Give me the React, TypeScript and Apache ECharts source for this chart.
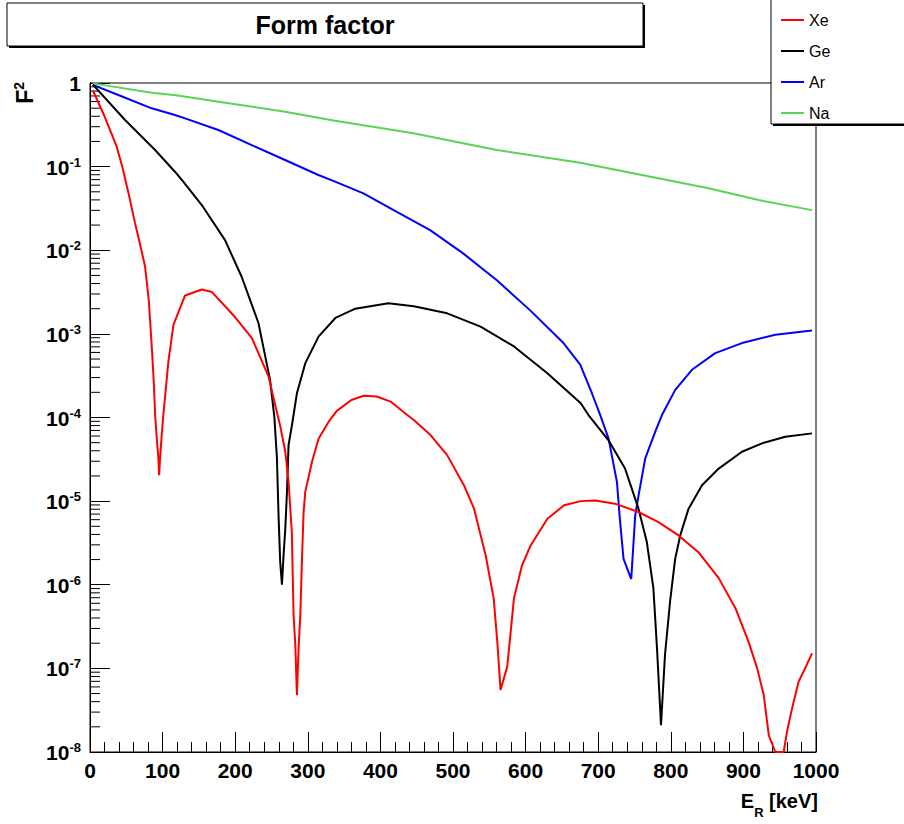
import React, { useEffect, useRef } from "react";
import * as echarts from "echarts";

// ---- Data (recoil energy in keV, squared form factor) ----
const xeEnergy = [4, 20, 36.8, 45, 54, 62, 69, 75.9, 81, 85.1, 88, 89.7, 92, 94.2, 95.2, 96.5, 98.8, 101, 108, 115, 131, 154, 168, 200, 223, 246, 255, 262, 269, 273.5, 278, 280.4, 282.8, 285, 287.3, 289.7, 292, 294.2, 296.5, 305.8, 315, 328.7, 340, 360, 377, 395, 414, 437, 446, 469, 492, 515, 529, 545, 556, 561, 565.5, 574.7, 584, 595, 607, 630, 653, 676, 696, 723, 755.5, 783, 810.7, 838, 866, 889, 907, 919, 928, 935, 944, 955.5, 960, 967, 976, 985, 994.5];
const xeF2 = [0.813, 0.4, 0.173, 0.0955, 0.0442, 0.0211, 0.0117, 0.00635, 0.0025, 7.01e-4, 2.5e-4, 1.07e-4, 5.62e-5, 3.24e-5, 2.04e-5, 3.24e-5, 6.17e-5, 1.07e-4, 4.68e-4, 1.29e-3, 2.88e-3, 3.39e-3, 3.16e-3, 1.58e-3, 8.91e-4, 3.09e-4, 1.41e-4, 7.94e-5, 3.89e-5, 1.7e-5, 4.27e-6, 4.37e-7, 1.91e-7, 4.79e-8, 1.74e-7, 4.37e-7, 2.04e-6, 7.41e-6, 1.29e-5, 2.95e-5, 5.62e-5, 8.91e-5, 1.2e-4, 1.62e-4, 1.82e-4, 1.78e-4, 1.55e-4, 1.07e-4, 9.33e-5, 6.17e-5, 3.55e-5, 1.55e-5, 8.13e-6, 2.24e-6, 6.92e-7, 2.09e-7, 5.5e-8, 1.05e-7, 6.92e-7, 1.7e-6, 2.95e-6, 6.17e-6, 8.91e-6, 1.0e-5, 1.02e-5, 9.33e-6, 7.41e-6, 5.62e-6, 3.89e-6, 2.45e-6, 1.2e-6, 5.25e-7, 2.09e-7, 1.0e-7, 4.79e-8, 1.58e-8, 1.0e-8, 1.0e-8, 1.74e-8, 3.31e-8, 6.92e-8, 1.0e-7, 1.51e-7];

const geEnergy = [4, 48.3, 89.7, 118.5, 126.5, 154, 186, 209, 232, 248, 254, 257.5, 259.7, 262, 264.4, 266.6, 269, 271.3, 273.5, 278.2, 285, 296.6, 315, 338, 365.5, 411, 446, 492, 538, 584, 630, 676, 686.6, 714, 737, 755.5, 767, 776, 781, 786.5, 792, 799, 806, 813, 824.5, 843, 866, 898, 925.6, 957.7, 994.5];
const geF2 = [0.955, 0.361, 0.158, 0.084, 0.0692, 0.0347, 0.0132, 4.79e-3, 1.35e-3, 2.82e-4, 1.0e-4, 3.24e-5, 6.76e-6, 1.86e-6, 1.0e-6, 2.24e-6, 4.68e-6, 1.29e-5, 4.68e-5, 8.13e-5, 1.95e-4, 4.47e-4, 9.33e-4, 1.55e-3, 2.0e-3, 2.32e-3, 2.14e-3, 1.76e-3, 1.22e-3, 7.08e-4, 3.39e-4, 1.48e-4, 1.07e-4, 5.37e-5, 2.45e-5, 8.13e-6, 3.24e-6, 9.12e-7, 1.74e-7, 2.09e-8, 1.45e-7, 6.31e-7, 2.04e-6, 3.89e-6, 8.13e-6, 1.55e-5, 2.45e-5, 3.89e-5, 4.9e-5, 5.89e-5, 6.46e-5];

const arEnergy = [4, 39, 85, 117, 131, 176.8, 222.8, 268.7, 314.6, 337.6, 376.6, 422.6, 468.5, 514.4, 560.4, 606.3, 652.2, 675.2, 691.3, 702.8, 714.2, 725.8, 729.4, 734.9, 745.5, 751, 755.6, 764.8, 778.6, 787.8, 806.1, 829.1, 861.2, 898, 943.9, 994.5];
const arF2 = [0.95, 0.718, 0.498, 0.415, 0.378, 0.274, 0.181, 0.12, 0.0794, 0.0661, 0.0479, 0.0288, 0.0174, 9.12e-3, 4.37e-3, 1.91e-3, 7.76e-4, 4.3e-4, 1.95e-4, 1.07e-4, 5.62e-5, 1.7e-5, 6.76e-6, 2.04e-6, 1.17e-6, 6.76e-6, 1.17e-5, 3.24e-5, 6.76e-5, 1.07e-4, 2.14e-4, 3.72e-4, 5.89e-4, 7.76e-4, 9.77e-4, 1.1e-3];

const naEnergy = [4, 85, 118.5, 176.8, 268.7, 337.6, 445.5, 560.4, 675.2, 760.2, 852, 921, 994.5];
const naF2 = [0.99, 0.766, 0.713, 0.597, 0.454, 0.354, 0.251, 0.158, 0.111, 0.0794, 0.055, 0.0398, 0.0302];

const seriesNames = ["Xe", "Ge", "Ar", "Na"];
const seriesColors = ["#ff0000", "#000000", "#0000ff", "#59d454"];
const minorMultipliers = [2, 3, 4, 5, 6, 7, 8, 9];

const FONT = "'Liberation Sans', Arial, Helvetica, sans-serif";

export default function App() {
  const ref = useRef<HTMLDivElement>(null);

  useEffect(() => {
    if (!ref.current) return;
    const chart = echarts.init(ref.current, undefined, { renderer: "svg" });

    const pairs = (xs: number[], ys: number[]) => xs.map((x, i) => [x, ys[i]]);
    const allData = [
      pairs(xeEnergy, xeF2),
      pairs(geEnergy, geF2),
      pairs(arEnergy, arF2),
      pairs(naEnergy, naF2),
    ];

    // minor tick values of the log axis (2..9 x 10^k)
    const minorValues: number[][] = [];
    for (let k = -8; k < 0; k++) {
      for (const m of minorMultipliers) minorValues.push([0, m * Math.pow(10, k)]);
    }

    const option: any = {
      animation: false,
      backgroundColor: "#ffffff",
      textStyle: { fontFamily: FONT },
      grid: {
        left: 90,
        top: 83,
        width: 726,
        height: 669,
        show: true,
        borderColor: "#000",
        borderWidth: 1,
        backgroundColor: "transparent",
      },
      legend: {
        orient: "vertical",
        left: 776,
        top: 5,
        icon: "rect",
        itemWidth: 23,
        itemHeight: 2,
        itemGap: 11,
        selectedMode: false,
        data: seriesNames,
        textStyle: { fontFamily: FONT, fontSize: 16, color: "#000", lineHeight: 20 },
        z: 10,
      },
      xAxis: {
        type: "value",
        min: 0,
        max: 1000,
        interval: 100,
        axisLine: { show: true, onZero: false, lineStyle: { color: "#000", width: 1 } },
        axisTick: { show: true, inside: true, length: 20, lineStyle: { color: "#000" } },
        minorTick: { show: true, splitNumber: 5, length: 10, lineStyle: { color: "#000" } },
        splitLine: { show: false },
        axisLabel: {
          show: true,
          margin: 8,
          fontFamily: FONT,
          fontWeight: "bold",
          fontSize: 21,
          color: "#000",
          formatter: (v: number) => String(v),
        },
      },
      yAxis: {
        type: "log",
        logBase: 10,
        min: 1e-8,
        max: 1,
        splitNumber: 8,
        axisLine: { show: true, onZero: false, lineStyle: { color: "#000", width: 1 } },
        axisTick: { show: true, inside: true, length: 20, lineStyle: { color: "#000", width: 1 } },
        splitLine: { show: false },
        axisLabel: {
          show: true,
          margin: 9,
          color: "#000",
          formatter: (v: number) => {
            const e = Math.round(Math.log10(v));
            return e === 0 ? "{b|1}" : "{b|10}{e|" + e + "}";
          },
          rich: {
            b: { fontFamily: FONT, fontWeight: "bold", fontSize: 21, color: "#000", lineHeight: 22, verticalAlign: "bottom" },
            e: { fontFamily: FONT, fontWeight: "bold", fontSize: 13, color: "#000", lineHeight: 14, verticalAlign: "top" },
          },
        },
      },
      series: [
        ...seriesNames.map((name, i) => ({
          name,
          type: "line",
          data: allData[i],
          showSymbol: false,
          symbol: "none",
          smooth: false,
          clip: true,
          lineStyle: { color: seriesColors[i], width: 2 },
          itemStyle: { color: seriesColors[i] },
          z: 2 + (seriesNames.length - i),
        })),
        {
          name: "minorTicks",
          type: "custom",
          coordinateSystem: "cartesian2d",
          silent: true,
          clip: false,
          data: minorValues,
          encode: { x: 0, y: 1 },
          renderItem: (_params: any, api: any) => {
            const p = api.coord([api.value(0), api.value(1)]);
            return {
              type: "line",
              shape: { x1: p[0], y1: p[1], x2: p[0] + 10, y2: p[1] },
              style: { stroke: "#000", lineWidth: 1 },
            };
          },
          z: 1,
        },
      ],
      graphic: [
        // Title box with shadow
        { type: "rect", z: 5, shape: { x: 9, y: 5, width: 636, height: 43 }, style: { fill: "#000" } },
        { type: "rect", z: 6, shape: { x: 7, y: 3, width: 636, height: 43 }, style: { fill: "#fff", stroke: "#000", lineWidth: 1 } },
        {
          type: "text",
          z: 7,
          x: 325,
          y: 25,
          style: {
            text: "Form factor",
            fontFamily: FONT,
            fontWeight: "bold",
            fontSize: 25,
            fill: "#000",
            align: "center",
            verticalAlign: "middle",
          },
        },
        // Legend box with shadow
        { type: "rect", z: 8, shape: { x: 773, y: -5, width: 200, height: 131 }, style: { fill: "#000" } },
        { type: "rect", z: 9, shape: { x: 771, y: -7, width: 200, height: 131 }, style: { fill: "#fff", stroke: "#000", lineWidth: 1 } },
        // Y axis title F^2
        {
          type: "text",
          z: 7,
          x: 24,
          y: 82,
          rotation: Math.PI / 2,
          style: {
            text: "{a|F}{s|2}",
            align: "right",
            verticalAlign: "middle",
            rich: {
              a: { fontFamily: FONT, fontWeight: "bold", fontSize: 23, fill: "#000", lineHeight: 24, verticalAlign: "bottom" },
              s: { fontFamily: FONT, fontWeight: "bold", fontSize: 14, fill: "#000", lineHeight: 15, verticalAlign: "top" },
            },
          },
        },
        // X axis title E_R [keV]
        {
          type: "text",
          z: 7,
          x: 818,
          y: 802,
          style: {
            text: "{a|E}{s|R}{a| [keV]}",
            align: "right",
            verticalAlign: "middle",
            rich: {
              a: { fontFamily: FONT, fontWeight: "bold", fontSize: 20, fill: "#000", lineHeight: 22, verticalAlign: "top" },
              s: { fontFamily: FONT, fontWeight: "bold", fontSize: 13, fill: "#000", lineHeight: 14, verticalAlign: "bottom", padding: [0, 0, -6, 0] },
            },
          },
        },
      ],
    };

    chart.setOption(option);
    return () => {
      chart.dispose();
    };
  }, []);

  return (
    <div
      ref={ref}
      style={{ position: "absolute", left: 0, top: 0, width: 904, height: 824, background: "#fff" }}
    />
  );
}
